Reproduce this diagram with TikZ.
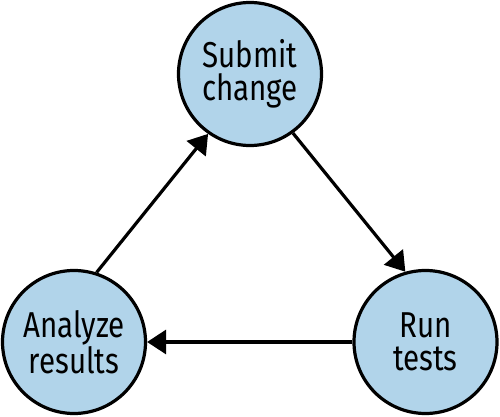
\documentclass[tikz,border=0pt]{standalone}
\usepackage{fontspec}
\setmainfont[FakeStretch=0.82]{Fira Sans}
\usetikzlibrary{arrows.meta}
\definecolor{nodeblue}{RGB}{177,212,234}
\tikzset{
  stage/.style={circle, draw=black, line width=3.2pt, fill=nodeblue, minimum size=143pt,
    inner sep=0pt, align=center, font=\fontsize{36}{33}\selectfont},
  flow/.style={line width=3.2pt, -{Triangle[length=19pt,width=24pt]}}
}
\begin{document}
\begin{tikzpicture}[x=1pt,y=1pt]
\useasboundingbox (0,0) rectangle (500,417);
\node[stage] (S) at (250,343) {Submit\\change};
\node[stage] (A) at (74,75) {Analyze\\results};
\node[stage] (R) at (425.5,75) {Run\\tests};
\draw[flow] (A.72) -- (S.235);
\draw[flow] (S.306) -- (R.106);
\draw[flow] (R.180) -- (A.0);
\end{tikzpicture}
\end{document}
